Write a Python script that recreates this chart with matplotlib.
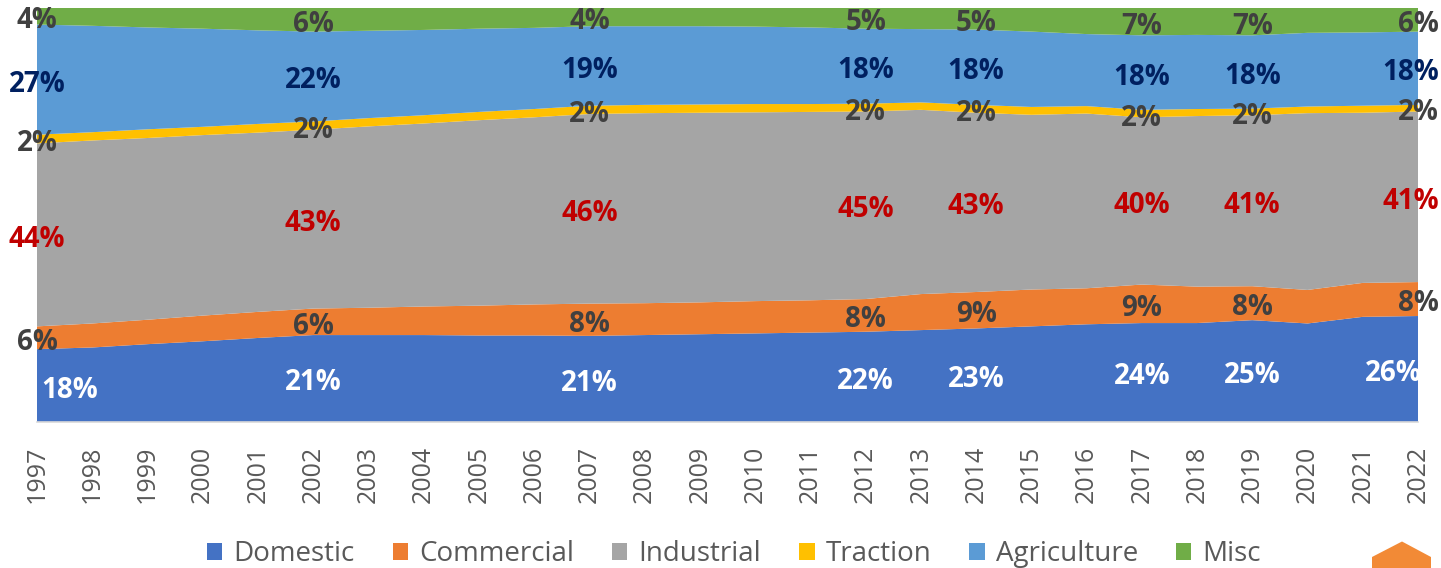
import numpy as np
import matplotlib
matplotlib.use("Agg")
import matplotlib.pyplot as plt
from matplotlib.patches import Patch, Polygon

years = list(range(1997, 2023))
domestic = [17.6, 18.0, 18.8, 19.5, 20.3, 21.0, 21.0, 21.0, 20.9, 20.9, 20.8, 21.0, 21.2,
            21.4, 21.6, 21.8, 22.2, 22.6, 23.1, 23.6, 23.9, 23.9, 24.6, 23.8, 25.4, 25.6]
commercial = [5.5, 5.8, 5.9, 6.2, 6.3, 6.4, 6.6, 6.9, 7.2, 7.5, 7.8, 7.7, 7.7,
              7.8, 7.8, 7.9, 8.7, 8.8, 8.9, 8.7, 9.3, 8.8, 8.2, 8.1, 8.2, 8.2]
industrial = [44.2, 44.2, 43.9, 43.6, 43.3, 43.2, 43.8, 44.2, 44.8, 45.2, 45.8, 45.9, 45.8,
              45.6, 45.5, 45.3, 44.5, 43.3, 42.2, 42.2, 40.4, 41.2, 41.3, 42.7, 41.1, 41.2]
traction = [2.1, 2.0, 2.1, 2.0, 2.1, 2.0, 2.0, 2.0, 2.0, 2.0, 2.0, 2.0, 2.0,
            2.0, 1.9, 1.9, 1.8, 1.9, 1.9, 1.8, 1.8, 1.7, 1.6, 1.6, 1.7, 1.6]
agriculture = [26.6, 25.7, 24.6, 23.7, 22.6, 21.7, 21.1, 20.6, 20.1, 19.6, 19.2, 19.0, 18.9,
               18.7, 18.5, 18.1, 17.7, 18.2, 18.2, 17.4, 18.0, 17.9, 17.7, 17.8, 17.7, 17.7]
misc = [4.0, 4.3, 4.7, 5.0, 5.4, 5.7, 5.5, 5.3, 5.0, 4.8, 4.4, 4.4, 4.4,
        4.5, 4.7, 5.0, 5.1, 5.2, 5.7, 6.3, 6.6, 6.5, 6.6, 6.0, 5.9, 5.7]

series_names = ["Domestic", "Commercial", "Industrial", "Traction", "Agriculture", "Misc"]
label_years = [1997, 2002, 2007, 2012, 2014, 2017, 2019, 2022]

colors = ["#4472C4", "#ED7D31", "#A5A5A5", "#FFC000", "#5B9BD5", "#70AD47"]
label_colors = ["white", "#404040", "#C00000", "#404040", "#002060", "#404040"]

W, H = 1441, 568
fig = plt.figure(figsize=(W / 100, H / 100), dpi=100)
ax = fig.add_axes([37 / W, 1 - 422 / H, (1418 - 37) / W, (422 - 8) / H])

data = [domestic, commercial, industrial, traction, agriculture, misc]
ax.stackplot(years, *data, colors=colors, labels=series_names, linewidth=0)
ax.set_xlim(1997, 2022)
ax.set_ylim(0, 100)
ax.set_yticks([])
ax.set_xticks(years)
ax.set_xticklabels([str(y) for y in years], rotation=90, fontsize=18,
                   color="#595959", family="Open Sans")
ax.tick_params(axis="x", length=0, pad=17)
for side in ["left", "top", "right"]:
    ax.spines[side].set_visible(False)
ax.spines["bottom"].set_color("#D9D9D9")
ax.spines["bottom"].set_linewidth(1.2)

arr = np.array(data)
cum = np.cumsum(arr, axis=0)
bottoms = cum - arr
for yr in label_years:
    i = years.index(yr)
    for s in range(len(series_names)):
        v = arr[s, i]
        txt = f"{v:.0f}%"
        yc = bottoms[s, i] + v / 2
        dx = 0
        if s == 0 and yr == 1997:
            dx = 33
        if yr == 2022:
            dx = -25 if s == 0 else (-7 if len(txt) == 3 else 0)
        ax.annotate(txt, (yr, yc), xytext=(dx * 0.72, -3.2),
                    textcoords="offset points", ha="center", va="center",
                    fontsize=20, fontweight="bold", family="Open Sans",
                    color=label_colors[s], annotation_clip=False)

handles = [Patch(facecolor=c, edgecolor="none") for c in colors]
leg = fig.legend(handles, series_names, loc="center", ncol=6,
                 bbox_to_anchor=(734 / W, 1 - 554 / H), frameon=False,
                 handlelength=0.55, handleheight=0.55, handletextpad=0.4,
                 columnspacing=1.37, prop={"family": "Open Sans", "size": 20})
for t in leg.get_texts():
    t.set_color("#595959")

# orange scroll button shape at bottom right
pts = [(1372, 570), (1372, 557), (1402, 541.5), (1431, 557), (1431, 570)]
poly = Polygon([(x / W, 1 - y / H) for x, y in pts], closed=True,
               transform=fig.transFigure, facecolor="#F28A36", edgecolor="none")
fig.patches.append(poly)

fig.savefig("out.png", dpi=100)
